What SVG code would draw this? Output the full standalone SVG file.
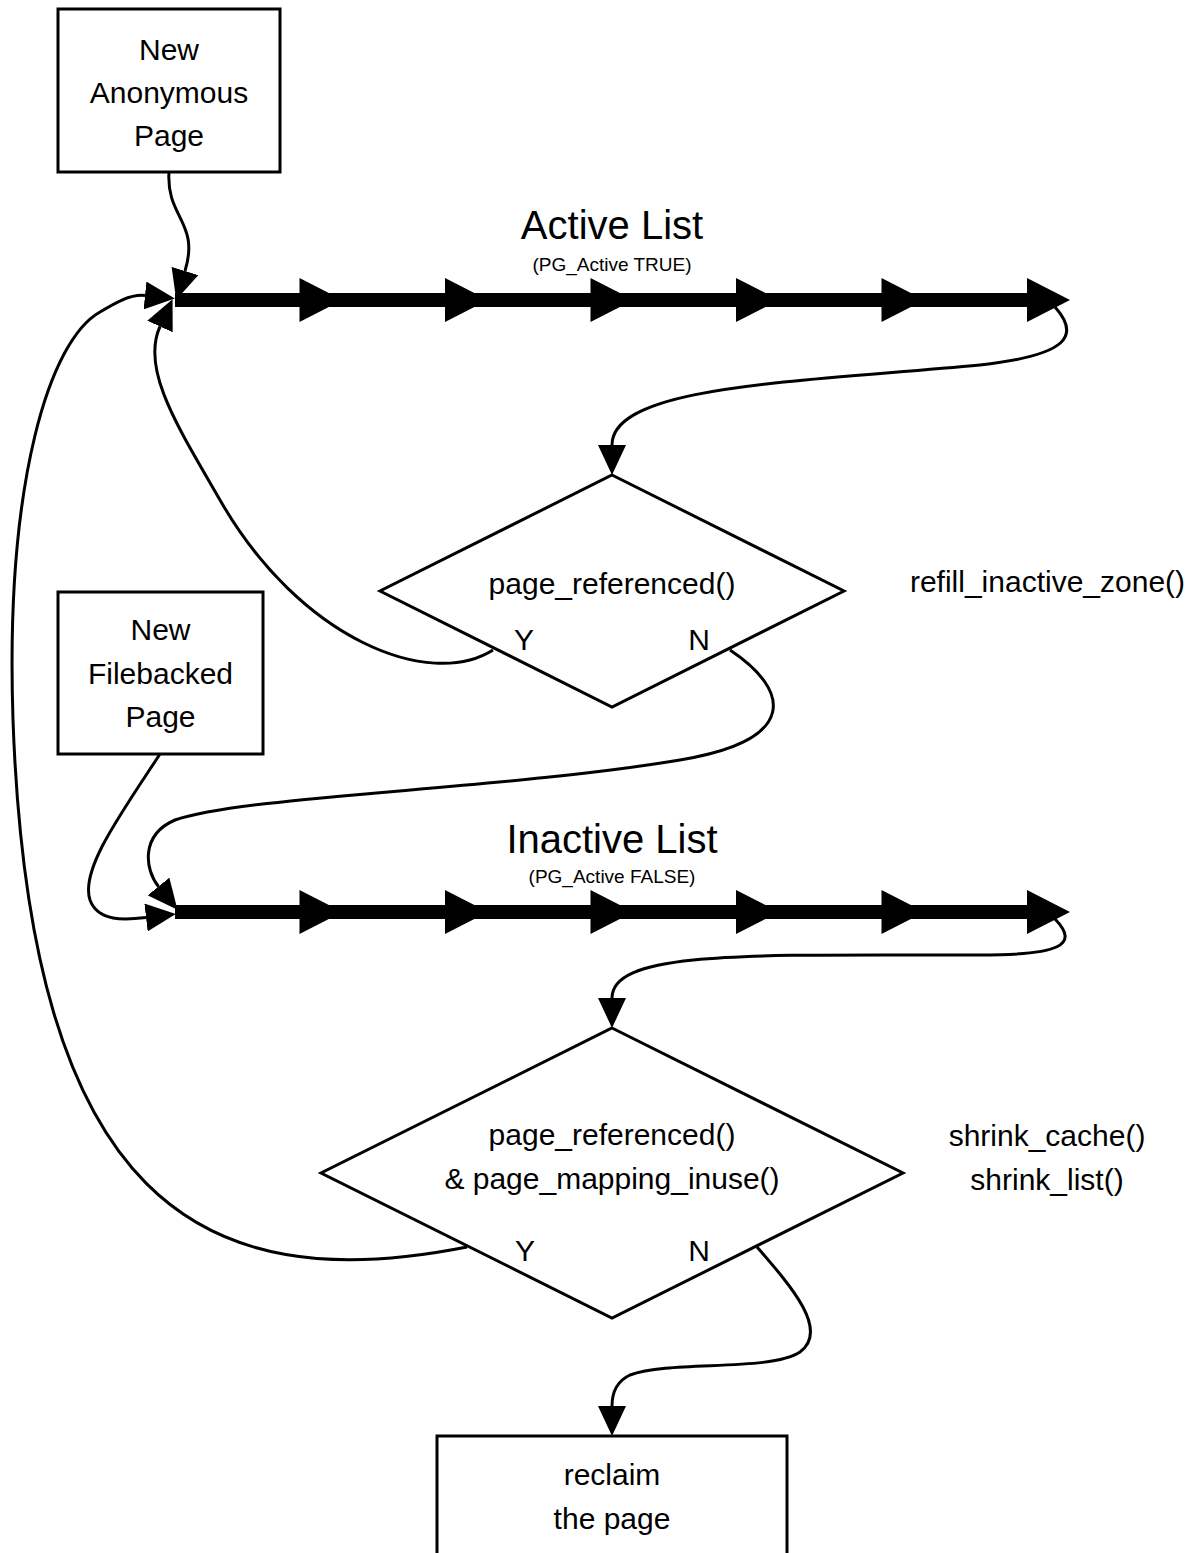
<svg xmlns="http://www.w3.org/2000/svg" xmlns:xlink="http://www.w3.org/1999/xlink" width="1197" height="1553" viewBox="0 0 1197 1553">
  <style>
    .box { fill: #ffffff; stroke: #000000; stroke-width: 3; }
    .dia { fill: #ffffff; stroke: #000000; stroke-width: 3; stroke-linejoin: miter; }
    .t { font-family: "Liberation Sans", Arial, Helvetica, sans-serif; font-size: 30px; fill: #000000; text-anchor: middle; }
    .title { font-family: "Liberation Sans", Arial, Helvetica, sans-serif; font-size: 40px; fill: #000000; text-anchor: middle; }
    .sub { font-family: "Liberation Sans", Arial, Helvetica, sans-serif; font-size: 19px; fill: #000000; text-anchor: middle; }
    .conn { fill: none; stroke: #000000; stroke-width: 3; marker-end: url(#ah); }
    .bar { fill: #000000; }
  </style>
  <defs>
    <marker id="ah" markerUnits="userSpaceOnUse" viewBox="0 0 30 28" markerWidth="30" markerHeight="28" refX="0" refY="14" orient="auto">
      <path d="M0,0 L30,14 L0,28 z" fill="#000000"/>
    </marker>
    <path id="tri" d="M0,-22 L43,0 L0,22 z" fill="#000000"/>
  </defs>

  <rect width="1197" height="1553" fill="#ffffff"/>

  <!-- Active list -->
  <g id="active-list">
    <rect class="bar" x="175" y="293" width="852" height="14"/>
    <use xlink:href="#tri" x="299.5" y="300"/>
    <use xlink:href="#tri" x="445" y="300"/>
    <use xlink:href="#tri" x="590.5" y="300"/>
    <use xlink:href="#tri" x="736" y="300"/>
    <use xlink:href="#tri" x="881.5" y="300"/>
    <use xlink:href="#tri" x="1027" y="300"/>
    <text class="title" x="612" y="239">Active List</text>
    <text class="sub" x="612" y="271">(PG_Active TRUE)</text>
  </g>

  <!-- Inactive list -->
  <g id="inactive-list">
    <rect class="bar" x="175" y="905" width="852" height="14"/>
    <use xlink:href="#tri" x="299.5" y="912"/>
    <use xlink:href="#tri" x="445" y="912"/>
    <use xlink:href="#tri" x="590.5" y="912"/>
    <use xlink:href="#tri" x="736" y="912"/>
    <use xlink:href="#tri" x="881.5" y="912"/>
    <use xlink:href="#tri" x="1027" y="912"/>
    <text class="title" x="612" y="853">Inactive List</text>
    <text class="sub" x="612" y="883">(PG_Active FALSE)</text>
  </g>

  <!-- Connectors -->
  <g id="connectors">
    <path class="conn" d="M169,172 C166,218 200,222 185,271"/>
    <path class="conn" d="M467,1247 C200,1300 30,1200 13,720 C5,480 50,340 100,312 C115,303 130,294 145,295.5"/>
    <path class="conn" d="M493,650 C430,690 300,640 220,500 C180,430 140,370 160,326.5"/>
    <path class="conn" d="M1055,307 C1080,335 1070,355 980,365 C800,382 612,385 612,445"/>
    <path class="conn" d="M730,650 C790,690 800,740 680,760 C500,790 250,795 175,820 C140,835 145,870 158.5,886.5"/>
    <path class="conn" d="M160,754 C120,815 80,870 90,900 C98,922 125,920 146,917.5"/>
    <path class="conn" d="M1055,919 C1080,945 1060,955 980,955 C750,955 612,950 612,998"/>
    <path class="conn" d="M757,1247 C790,1285 830,1330 800,1352 C770,1372 670,1360 630,1375 C615,1382 612,1395 612,1406"/>
  </g>

  <g id="new-anonymous-page">
    <rect class="box" x="58" y="9" width="222" height="163"/>
    <text class="t" x="169" y="60">New</text>
    <text class="t" x="169" y="103">Anonymous</text>
    <text class="t" x="169" y="146">Page</text>
  </g>

  <g id="new-filebacked-page">
    <rect class="box" x="58" y="592" width="205" height="162"/>
    <text class="t" x="160.5" y="640">New</text>
    <text class="t" x="160.5" y="684">Filebacked</text>
    <text class="t" x="160.5" y="727">Page</text>
  </g>

  <g id="decision-active">
    <polygon class="dia" points="612,475 844,591 612,707 380,591"/>
    <text class="t" x="612" y="594">page_referenced()</text>
    <text class="t" x="524" y="650">Y</text>
    <text class="t" x="699" y="650">N</text>
  </g>

  <g id="refill-label">
    <text class="t" x="1047.5" y="592">refill_inactive_zone()</text>
  </g>

  <g id="decision-inactive">
    <polygon class="dia" points="612,1028 903,1173 612,1318 321,1173"/>
    <text class="t" x="612" y="1145">page_referenced()</text>
    <text class="t" x="612" y="1189">&amp; page_mapping_inuse()</text>
    <text class="t" x="525" y="1261">Y</text>
    <text class="t" x="699" y="1261">N</text>
  </g>

  <g id="shrink-label">
    <text class="t" x="1047" y="1146">shrink_cache()</text>
    <text class="t" x="1047" y="1190">shrink_list()</text>
  </g>

  <g id="reclaim-page">
    <rect class="box" x="437" y="1436" width="350" height="130"/>
    <text class="t" x="612" y="1485">reclaim</text>
    <text class="t" x="612" y="1529">the page</text>
  </g>
</svg>
